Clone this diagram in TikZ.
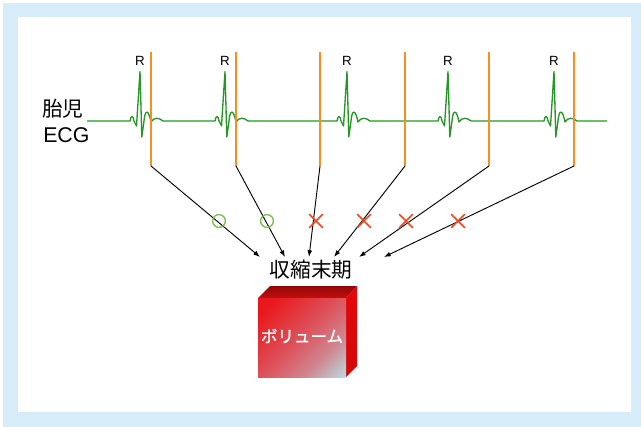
\documentclass[tikz,border=0pt]{standalone}
\usepackage{fontspec}
\setmainfont{Liberation Sans}
\newfontfamily\jpfont{Noto Sans CJK JP}
\newfontfamily\jpheavy{Noto Sans CJK JP}[FakeBold=1.3]
\usetikzlibrary{arrows.meta,shapes.misc}

\definecolor{framebl}{RGB}{214,236,249}
\definecolor{ecggreen}{RGB}{38,150,38}
\definecolor{rmark}{RGB}{247,142,30}
\definecolor{okgreen}{RGB}{118,190,72}
\definecolor{ngred}{RGB}{240,72,30}
\definecolor{cubered}{RGB}{234,24,28}
\definecolor{cubemid}{RGB}{220,84,94}
\definecolor{cuberose}{RGB}{206,136,146}
\definecolor{cubepale}{RGB}{184,224,228}
\definecolor{cubetopdark}{RGB}{145,8,8}
\definecolor{cubetoplight}{RGB}{196,14,14}
\definecolor{cubeside}{RGB}{228,8,10}

% diagonal fill of the cube's front face
\pgfdeclarehorizontalshading{cubefront}{100bp}{%
  color(0bp)=(cubered); color(22bp)=(cubered); color(50bp)=(cubemid);
  color(68bp)=(cuberose); color(86bp)=(cubepale); color(100bp)=(cubepale)}

\tikzset{
  ecg/.style={draw=ecggreen, line width=1pt, line join=round},
  rline/.style={draw=rmark, line width=1.1pt},
  toend/.style={draw=black, line width=0.7pt, -{Latex[length=5pt,width=3.6pt]}},
  okmark/.style={circle, draw=okgreen, line width=1pt, minimum size=9.6pt, inner sep=0pt},
  ngmark/.style={cross out, draw=ngred, line width=1.1pt, minimum size=9.2pt, inner sep=0pt},
  rlabel/.style={font=\fontsize{10}{12}\selectfont, inner sep=0pt},
  jplabel/.style={font=\jpfont\fontsize{15.5}{18}\selectfont, inner sep=0pt},
}

\begin{document}
\begin{tikzpicture}[x=0.75pt,y=-0.75pt]
\useasboundingbox (0,0) rectangle (641,427);

% frame
\fill[framebl] (3,3) rectangle (641,427);
\fill[white] (18,17) rectangle (631,412);

% labels of the trace
\node[jplabel, anchor=west] (title1) at (42,109) {胎児};
\node[font=\fontsize{16}{19}\selectfont, inner sep=0pt, anchor=west] (title2) at (43,135.5) {ECG};

% fetal ECG trace
\draw[ecg] (87,121)
  foreach \r in {140,225,347,448,554}{
    -- (\r-10,121)
    .. controls (\r-9,115) and (\r-7,115) .. (\r-6,121)
    -- (\r-3.5,126) -- (\r,71.5) -- (\r+1.8,137) -- (\r+4,121)
    .. controls (\r+5,109) and (\r+8.5,109) .. (\r+11,122)
    .. controls (\r+14,117) and (\r+19,117.5) .. (\r+23,121)
  } -- (607,121);

% R labels
\foreach \r [count=\i] in {140,225,347,448,554}
  \node[rlabel] (R\i) at (\r,61) {R};

% trigger lines
\foreach \x [count=\i] in {151,236,320,405,489,574}{
  \coordinate (a\i) at (\x,52);
  \coordinate (b\i) at (\x,166);
  \draw[rline] (a\i) -- (b\i);
}

% end-systole label and arrow targets
\node[jplabel] (es) at (311,270) {収縮末期};
\foreach \x [count=\i] in {260,285,309,334,359,384}
  \coordinate (t\i) at (\x,257);
\foreach \i in {1,...,6}
  \draw[toend] (b\i) -- (t\i);

% accepted / rejected marks
\node[okmark] (ok1) at (219,221) {};
\node[okmark] (ok2) at (267,221) {};
\node[ngmark] (ng1) at (316,221) {};
\node[ngmark] (ng2) at (364,221) {};
\node[ngmark] (ng3) at (406,221) {};
\node[ngmark] (ng4) at (458,221) {};

% volume cube
\shade[top color=cubetopdark, bottom color=cubetoplight]
  (258,298) -- (270,286) -- (357,286) -- (346,298) -- cycle;
\shade[top color=cubeside, bottom color=cubeside!92!black]
  (346,298) -- (357,286) -- (357,366) -- (346,377) -- cycle;
\shade[shading=cubefront, shading angle=-45]
  (258,298) rectangle (346,377);
\node[font=\jpheavy\fontsize{12.4}{14}\selectfont, text=white, inner sep=0pt] (vol) at (302,336) {ボリューム};
\end{tikzpicture}
\end{document}
